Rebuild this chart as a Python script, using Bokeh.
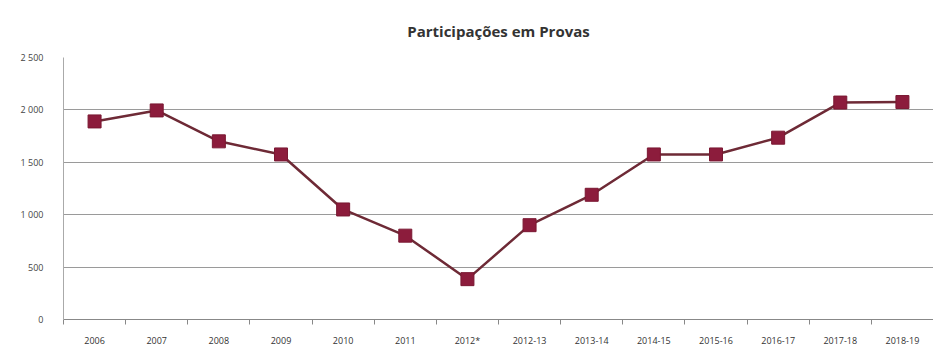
from bokeh.plotting import figure
from bokeh.models import FixedTicker, Range1d, Title
from bokeh.embed import file_html
from bokeh.resources import INLINE

title_text = "Participações em Provas"
categories = ["2006", "2007", "2008", "2009", "2010", "2011", "2012*",
              "2012-13", "2013-14", "2014-15", "2015-16", "2016-17",
              "2017-18", "2018-19"]
participacoes = [1890, 1995, 1700, 1575, 1050, 800, 385,
                 900, 1190, 1575, 1575, 1735, 2070, 2075]
y_ticks = [0, 500, 1000, 1500, 2000, 2500]

xs = list(range(len(categories)))

p = figure(width=933, height=353, output_backend="svg", toolbar_location=None,
           x_range=Range1d(-0.5, len(categories) - 0.5),
           y_range=Range1d(0, 2500),
           min_border_left=63, min_border_right=0, min_border_top=57,
           min_border_bottom=34)
p.title = None
p.add_layout(Title(text=title_text, align="center", text_font="Open Sans",
                   text_font_size="15px", text_font_style="bold",
                   text_color="#333333", offset=0, standoff=33), "above")
p.outline_line_color = None
p.background_fill_color = "white"
p.border_fill_color = "white"

p.line(xs, participacoes, line_color="#6e2a36", line_width=2.5)
p.scatter(xs, participacoes, marker="square", size=13,
          fill_color="#8c1c3c", line_color="#7a1832")

# x axis
p.xaxis.ticker = FixedTicker(ticks=xs, minor_ticks=[i - 0.5 for i in range(len(categories) + 1)])
p.xaxis.major_label_overrides = {i: c for i, c in enumerate(categories)}
p.xaxis.major_tick_line_color = None
p.xaxis.minor_tick_in = 0
p.xaxis.minor_tick_out = 5
p.xaxis.minor_tick_line_color = "#888888"
p.xaxis.axis_line_color = "#888888"
p.xaxis.major_label_text_font = "Open Sans"
p.xaxis.major_label_text_font_size = "9px"
p.xaxis.major_label_text_color = "#333333"
p.xaxis.major_label_standoff = 8

# y axis
p.yaxis.ticker = FixedTicker(ticks=y_ticks)
p.yaxis.major_label_overrides = {v: f"{v:,}".replace(",", " ") for v in y_ticks}
p.yaxis.major_tick_line_color = None
p.yaxis.minor_tick_line_color = None
p.yaxis.axis_line_color = "#aaaaaa"
p.yaxis.major_label_text_font = "Open Sans"
p.yaxis.major_label_text_font_size = "9px"
p.yaxis.major_label_text_color = "#444444"
p.yaxis.major_label_standoff = 14

p.xgrid.grid_line_color = None
p.ygrid.grid_line_color = "#9a9a9a"
p.ygrid.grid_line_width = 1

open("out.html", "w").write(file_html(p, INLINE))
